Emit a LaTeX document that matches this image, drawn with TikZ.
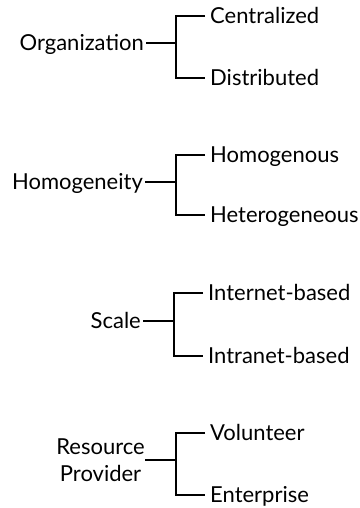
\documentclass[tikz,border=0pt]{standalone}
\usepackage{fontspec}
\setmainfont{Lato}
\begin{document}
\begin{tikzpicture}[x=1pt,y=-1pt,
  every node/.style={font=\fontsize{22}{27}\selectfont, inner sep=0pt},
  parent/.style={anchor=east, text height=15.5pt, text depth=0pt, inner xsep=2pt},
  child/.style={anchor=west, text height=15.5pt, text depth=0pt, inner xsep=5pt},
  conn/.style={line width=1.7pt}]
\useasboundingbox (0,0) rectangle (359,508);
% Group 1
\node[parent] (org) at (146,43) {Organization};
\node[child] (cen) at (205,16) {Centralized};
\node[child] (dis) at (205,78) {Distributed};
\coordinate (b1) at (176,43);
\draw[conn] (org.east) -- (b1);
\draw[conn] (cen.west) -| (b1) |- (dis.west);
% Group 2
\node[parent] (hom) at (145,182) {Homogeneity};
\node[child] (hgs) at (205,155) {Homogenous};
\node[child] (het) at (205,215) {Heterogeneous};
\coordinate (b2) at (176,182);
\draw[conn] (hom.east) -- (b2);
\draw[conn] (hgs.west) -| (b2) |- (het.west);
% Group 3
\node[parent] (sca) at (143,321) {Scale};
\node[child] (int) at (203,293) {Internet-based};
\node[child] (intra) at (203,356) {Intranet-based};
\coordinate (b3) at (174,321);
\draw[conn] (sca.east) -- (b3);
\draw[conn] (int.west) -| (b3) |- (intra.west);
% Group 4
\node[anchor=east, align=center] (res) at (145,460) {Resource\\Provider};
\node[child] (vol) at (205,433) {Volunteer};
\node[child] (ent) at (205,495) {Enterprise};
\coordinate (b4) at (176,460);
\draw[conn] (res.east |- b4) -- (b4);
\draw[conn] (vol.west) -| (b4) |- (ent.west);
\end{tikzpicture}
\end{document}
